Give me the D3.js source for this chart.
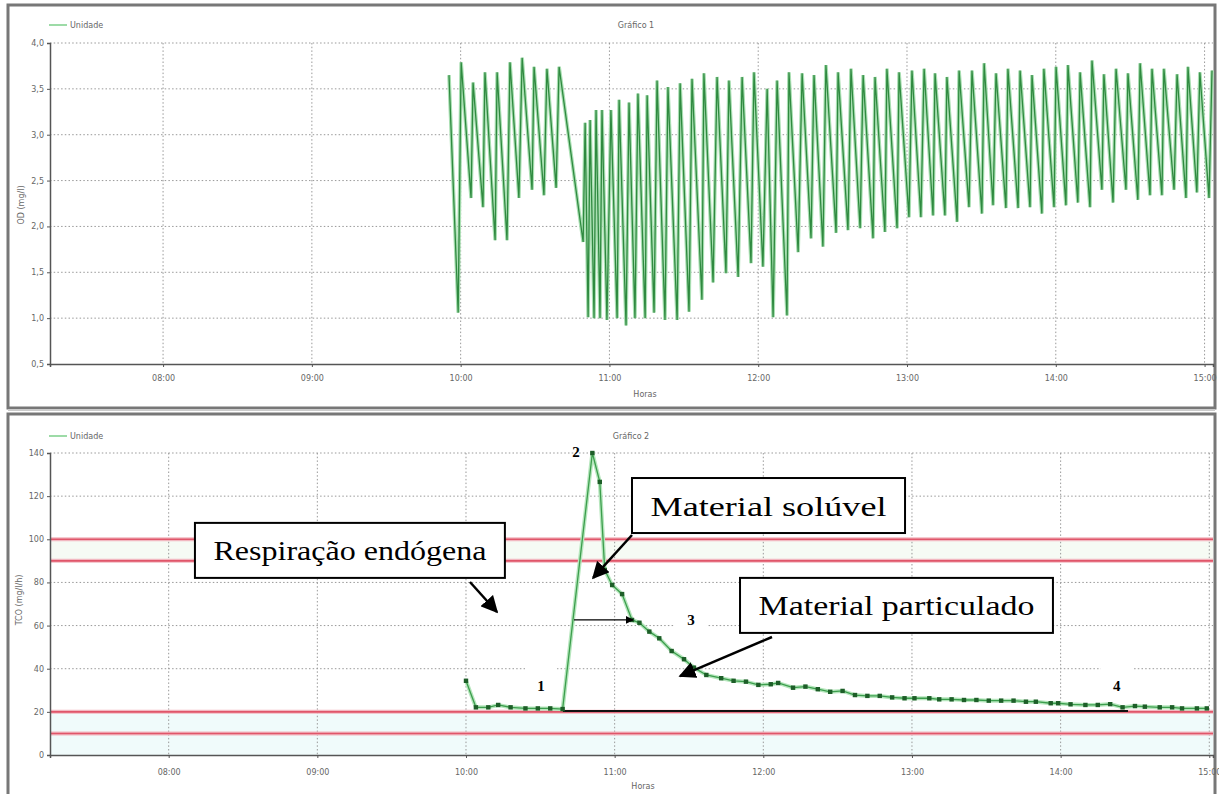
<!DOCTYPE html>
<html>
<head>
<meta charset="utf-8">
<script src="https://cdn.jsdelivr.net/npm/d3@7"></script>
<style>
	body { margin: 0; background: #fff; }
	svg { display: block; }
	.tick text { font-family: "DejaVu Sans", sans-serif; font-size: 8px; fill: #666; }
	.small { font-family: "DejaVu Sans", sans-serif; font-size: 8px; fill: #666; }
	.note { font-family: "Liberation Serif", "Times New Roman", serif; font-size: 28px; fill: #000; }
	.num { font-family: "Liberation Serif", "Times New Roman", serif; font-size: 15px; font-weight: bold; fill: #000; }
</style>
</head>
<body>
<svg id="chart" width="1219" height="794"></svg>
<script>
// ---- dados (tempo em minutos desde 00:00) ----
// Gráfico 1: OD (mg/l), picos e vales alternados
const odMinutes = [
	595.3, 599.0, 600.2, 604.2, 605.0, 609.0, 609.8, 613.9, 614.7, 618.7,
	619.9, 623.5, 624.8, 628.8, 629.6, 633.6, 634.8, 638.5, 639.7, 649.4,
	650.2, 651.4, 652.2, 653.8, 654.6, 656.2, 657.0, 659.0, 660.6, 663.1,
	663.9, 666.7, 667.9, 670.3, 671.5, 674.4, 675.2, 678.0, 679.2, 682.4,
	683.6, 687.3, 688.5, 692.1, 693.3, 697.3, 698.1, 701.8, 703.4, 707.0,
	708.2, 711.9, 713.5, 717.1, 718.3, 721.9, 723.6, 726.0, 727.6, 731.6,
	732.4, 736.1, 737.7, 741.3, 742.5, 746.1, 747.3, 751.4, 752.2, 756.2,
	757.4, 761.1, 762.3, 766.3, 767.1, 771.1, 771.9, 776.0, 776.8, 780.8,
	782.0, 785.6, 786.9, 790.5, 791.3, 795.3, 796.1, 800.2, 801.0, 805.0,
	806.2, 810.2, 811.1, 814.7, 815.9, 819.9, 820.7, 824.8, 825.6, 829.6,
	830.4, 834.4, 835.2, 839.3, 840.1, 844.1, 844.9, 848.9, 849.8, 853.8,
	854.6, 858.6, 859.4, 863.1, 864.3, 868.3, 869.1, 873.1, 874.0, 878.0,
	878.8, 882.8, 883.6, 887.7, 888.9, 892.5, 893.3, 896.9, 898.1, 901.8,
	903.0
];
const odValues = [
	3.65, 1.06, 3.79, 2.31, 3.57, 2.21, 3.68, 1.85, 3.68, 1.85,
	3.79, 2.31, 3.84, 2.40, 3.74, 2.34, 3.72, 2.42, 3.74, 1.83,
	3.13, 1.01, 3.16, 1.00, 3.27, 1.00, 3.27, 0.98, 3.27, 1.00,
	3.38, 0.92, 3.35, 1.00, 3.45, 1.00, 3.43, 1.06, 3.59, 0.98,
	3.52, 0.98, 3.56, 1.07, 3.61, 1.20, 3.67, 1.39, 3.63, 1.49,
	3.59, 1.45, 3.63, 1.60, 3.68, 1.56, 3.50, 1.01, 3.59, 1.03,
	3.68, 1.72, 3.67, 1.87, 3.65, 1.78, 3.76, 1.93, 3.68, 1.96,
	3.72, 1.98, 3.65, 1.87, 3.63, 1.94, 3.72, 1.98, 3.68, 2.10,
	3.70, 2.10, 3.72, 2.12, 3.67, 2.12, 3.63, 2.05, 3.70, 2.21,
	3.70, 2.14, 3.78, 2.23, 3.67, 2.20, 3.72, 2.20, 3.70, 2.21,
	3.65, 2.14, 3.72, 2.21, 3.74, 2.23, 3.76, 2.26, 3.68, 2.21,
	3.81, 2.40, 3.66, 2.26, 3.72, 2.40, 3.67, 2.29, 3.78, 2.34,
	3.72, 2.34, 3.72, 2.40, 3.66, 2.31, 3.74, 2.37, 3.68, 2.31,
	3.70
];

// Gráfico 2: TCO (mg/l/h)
const tcoTimes = [
	"10:00", "10:04", "10:09", "10:13", "10:18", "10:24", "10:29", "10:34", "10:39",
	"10:51", "10:54", "10:56", "10:59", "11:03", "11:07", "11:10", "11:14", "11:18",
	"11:23", "11:28", "11:32", "11:37", "11:43", "11:48", "11:53", "11:58", "12:03",
	"12:06", "12:12", "12:17", "12:22", "12:27", "12:32", "12:37", "12:42", "12:47",
	"12:52", "12:57", "13:01", "13:07", "13:11", "13:16", "13:21", "13:26", "13:31",
	"13:36", "13:41", "13:46", "13:50", "13:56", "13:59", "14:04", "14:10", "14:15",
	"14:20", "14:25", "14:30", "14:34", "14:40", "14:45", "14:49", "14:55", "14:59"
];
const tcoValues = [
	34.4, 22.1, 22.1, 23.2, 22.1, 21.6, 21.6, 21.6, 21.3,
	140, 126.6, 85.8, 78.8, 74.6, 62.6, 61.3, 57.2, 54.1,
	48.2, 44.4, 40.5, 37.1, 35.6, 34.4, 34.0, 32.5, 32.8,
	33.4, 31.2, 31.7, 30.5, 29.3, 29.7, 27.8, 27.4, 27.4,
	26.7, 26.3, 26.3, 26.3, 25.8, 25.8, 25.5, 25.5, 25.2,
	25.2, 25.2, 24.7, 24.7, 24.0, 24.0, 23.5, 23.2, 23.2,
	23.6, 22.1, 22.7, 22.4, 22.1, 22.1, 21.6, 21.6, 21.6
];

const hourTicks = ["08:00", "09:00", "10:00", "11:00", "12:00", "13:00", "14:00", "15:00"];
const odTicks = [0.5, 1.0, 1.5, 2.0, 2.5, 3.0, 3.5, 4.0];
const tcoTicks = [0, 20, 40, 60, 80, 100, 120, 140];
const tcoLimits = [100, 90, 20, 10];

// anotações do gráfico 2 (minutos, valor)
const noteBoxes = [
	{ text: "Respiração endógena", t0: 490.6, t1: 615.7, v0: 107.6, v1: 82.1 },
	{ text: "Material solúvel", t0: 667.0, t1: 777.2, v0: 128.4, v1: 102.9 },
	{ text: "Material particulado", t0: 710.6, t1: 836.9, v0: 82.1, v1: 56.6 }
];
const noteArrows = [
	{ t0: 601.6, v0: 80.2, t1: 612.5, v1: 66.3 },
	{ t0: 667.0, v0: 102.0, t1: 651.3, v1: 82.1 },
	{ t0: 723.5, v0: 54.7, t1: 686.4, v1: 36.6 },
	{ t0: 643.6, v0: 62.6, t1: 667.4, v1: 62.6, thin: true }
];
const pointLabels = [
	{ text: "1", t: 630.3, v: 32.0, box: true },
	{ text: "2", t: 644.4, v: 140.5, box: false },
	{ text: "3", t: 690.8, v: 62.6, box: true },
	{ text: "4", t: 862.7, v: 32.0, box: true }
];
const baseLine = { t0: 639.1, t1: 867.2, v: 20.4 };

// ---- helpers ----
const base = new Date(1900, 0, 1).getTime();
const toDate = m => new Date(base + m * 60000);
const parseHM = d3.timeParse("%H:%M");
const fmtHM = d3.timeFormat("%H:%M");

const svg = d3.select("#chart");

// moldura
svg.append("rect").attr("x", 8).attr("y", 5).attr("width", 1207).attr("height", 403)
	.attr("fill", "#fff").attr("stroke", "#777").attr("stroke-width", 3);
svg.append("rect").attr("x", 8).attr("y", 414).attr("width", 1207).attr("height", 390)
	.attr("fill", "#fff").attr("stroke", "#777").attr("stroke-width", 3);
svg.append("line").attr("x1", 8).attr("x2", 1215).attr("y1", 410).attr("y2", 410)
	.attr("stroke", "#ccc").attr("stroke-width", 2);

const defs = svg.append("defs");
const arrowMarker = (id, size) => {
	defs.append("marker").attr("id", id)
		.attr("viewBox", "0 0 10 10").attr("refX", 9).attr("refY", 5)
		.attr("markerWidth", size).attr("markerHeight", size)
		.attr("markerUnits", "userSpaceOnUse").attr("orient", "auto")
		.append("path").attr("d", "M0,0 L10,5 L0,10 z").attr("fill", "#000");
};
arrowMarker("arrowBig", 17);
arrowMarker("arrowSmall", 8);

function drawPanel(cfg) {
	const g = svg.append("g");
	const x = d3.scaleTime().domain([toDate(cfg.start), toDate(cfg.end)]).range([cfg.left, cfg.right]);
	const y = d3.scaleLinear().domain(cfg.yDomain).range([cfg.bottom, cfg.top]);
	const xt = hourTicks.map(parseHM);

	// faixas e limites
	if (cfg.limits) {
		const band = (a, b, c) => g.append("rect")
			.attr("x", cfg.left).attr("width", cfg.right - cfg.left)
			.attr("y", y(a)).attr("height", y(b) - y(a)).attr("fill", c);
		band(100, 90, "#f6fbf4");
		band(20, 0, "#f0fbfb");
	}

	// grade pontilhada
	g.append("g").selectAll("line").data(cfg.yTicks.filter(d => d !== cfg.yDomain[0]))
		.join("line")
		.attr("x1", cfg.left).attr("x2", cfg.right)
		.attr("y1", d => y(d)).attr("y2", d => y(d))
		.attr("stroke", "#999").attr("stroke-width", 1).attr("stroke-dasharray", "1.5,2.2");
	g.append("g").selectAll("line").data(xt)
		.join("line")
		.attr("x1", d => x(d)).attr("x2", d => x(d))
		.attr("y1", cfg.top).attr("y2", cfg.bottom)
		.attr("stroke", "#999").attr("stroke-width", 1).attr("stroke-dasharray", "1.5,2.2");

	if (cfg.limits) {
		g.append("g").selectAll("line").data(cfg.limits)
			.join("line")
			.attr("x1", cfg.left).attr("x2", cfg.right)
			.attr("y1", d => y(d)).attr("y2", d => y(d))
			.attr("stroke", "#f2b8c0").attr("stroke-width", 4);
		g.append("g").selectAll("line").data(cfg.limits)
			.join("line")
			.attr("x1", cfg.left).attr("x2", cfg.right)
			.attr("y1", d => y(d)).attr("y2", d => y(d))
			.attr("stroke", "#e0566a").attr("stroke-width", 1.6);
	}

	// eixos
	const xAxis = d3.axisBottom(x).tickValues(xt).tickFormat(fmtHM).tickSize(3).tickPadding(cfg.xPad);
	const yAxis = d3.axisLeft(y).tickValues(cfg.yTicks).tickFormat(cfg.yFormat).tickSize(3).tickPadding(3);
	g.append("g").attr("transform", `translate(0,${cfg.bottom})`).call(xAxis)
		.call(s => s.select(".domain").attr("stroke", "#555").attr("stroke-width", 1.5))
		.call(s => s.selectAll(".tick line").attr("stroke", "#555"));
	g.append("g").attr("transform", `translate(${cfg.left},0)`).call(yAxis)
		.call(s => s.select(".domain").attr("stroke", "#555").attr("stroke-width", 1.5))
		.call(s => s.selectAll(".tick line").attr("stroke", "#555"));

	// textos
	g.append("line").attr("x1", 49).attr("x2", 67).attr("y1", cfg.legendY).attr("y2", cfg.legendY)
		.attr("stroke", "#7ccf8a").attr("stroke-width", 1.5);
	g.append("text").attr("class", "small").attr("x", 70).attr("y", cfg.legendY + 3).text("Unidade");
	g.append("text").attr("class", "small").attr("x", cfg.titleX).attr("y", cfg.legendY + 3)
		.attr("text-anchor", "middle").text(cfg.title);
	g.append("text").attr("class", "small").attr("x", cfg.hoursX).attr("y", cfg.hoursY)
		.attr("text-anchor", "middle").text("Horas");
	g.append("text").attr("class", "small")
		.attr("transform", `translate(${cfg.ylabelX},${cfg.ylabelY}) rotate(-90)`)
		.attr("text-anchor", "middle").text(cfg.yLabel);

	return { g, x, y };
}

// ---- Gráfico 1 ----
const p1 = drawPanel({
	start: 434.4, end: 903.4, left: 50, right: 1213, top: 43, bottom: 364, xPad: 8,
	yDomain: [0.5, 4.0], yTicks: odTicks, yFormat: d => d.toFixed(1).replace(".", ","),
	legendY: 25, title: "Gráfico 1", titleX: 636, hoursX: 645, hoursY: 397,
	yLabel: "OD (mg/l)", ylabelX: 24, ylabelY: 205
});
const odData = odMinutes.map((m, i) => ({ t: toDate(m), v: odValues[i] }));
const odLine = d3.line().x(d => p1.x(d.t)).y(d => p1.y(d.v));
p1.g.append("path").datum(odData).attr("d", odLine)
	.attr("fill", "none").attr("stroke", "#a9dfb2").attr("stroke-width", 3.6);
p1.g.append("path").datum(odData).attr("d", odLine)
	.attr("fill", "none").attr("stroke", "#2f8a40").attr("stroke-width", 1.3);

// ---- Gráfico 2 ----
const p2 = drawPanel({
	start: 432.1, end: 901.5, left: 50, right: 1213, top: 453, bottom: 755, xPad: 11,
	yDomain: [0, 140], yTicks: tcoTicks, yFormat: d3.format("d"), limits: tcoLimits,
	legendY: 436, title: "Gráfico 2", titleX: 631, hoursX: 643, hoursY: 789,
	yLabel: "TCO (mg/l/h)", ylabelX: 22, ylabelY: 600
});
const tcoData = tcoTimes.map((s, i) => ({ t: parseHM(s), v: tcoValues[i] }));
const tcoLine = d3.line().x(d => p2.x(d.t)).y(d => p2.y(d.v));
p2.g.append("path").datum(tcoData).attr("d", tcoLine)
	.attr("fill", "none").attr("stroke", "#b5e6bc").attr("stroke-width", 4);
p2.g.append("path").datum(tcoData).attr("d", tcoLine)
	.attr("fill", "none").attr("stroke", "#3c9e4d").attr("stroke-width", 1.3);

// linha de base (respiração endógena)
p2.g.append("line")
	.attr("x1", p2.x(toDate(baseLine.t0))).attr("x2", p2.x(toDate(baseLine.t1)))
	.attr("y1", p2.y(baseLine.v)).attr("y2", p2.y(baseLine.v))
	.attr("stroke", "#111").attr("stroke-width", 2);

p2.g.append("g").selectAll("rect").data(tcoData).join("rect")
	.attr("x", d => p2.x(d.t) - 2.2).attr("y", d => p2.y(d.v) - 2.2)
	.attr("width", 4.4).attr("height", 4.4).attr("fill", "#1d5e28");

// rótulos numerados
const lbl = p2.g.append("g");
pointLabels.forEach(d => {
	const cx = p2.x(toDate(d.t)), cy = p2.y(d.v);
	if (d.box) {
		lbl.append("rect").attr("x", cx - 16).attr("y", cy - 22).attr("width", 32).attr("height", 38)
			.attr("fill", "#fff");
	}
	lbl.append("text").attr("class", "num").attr("x", cx).attr("y", cy + 5)
		.attr("text-anchor", "middle").text(d.text);
});

// setas
p2.g.append("g").selectAll("line").data(noteArrows).join("line")
	.attr("x1", d => p2.x(toDate(d.t0))).attr("y1", d => p2.y(d.v0))
	.attr("x2", d => p2.x(toDate(d.t1))).attr("y2", d => p2.y(d.v1))
	.attr("stroke", "#000").attr("stroke-width", d => d.thin ? 1.2 : 2.5)
	.attr("marker-end", d => d.thin ? "url(#arrowSmall)" : "url(#arrowBig)");

// caixas de texto (texto esticado na horizontal como no original)
const boxes = p2.g.append("g").selectAll("g").data(noteBoxes).join("g");
boxes.append("rect")
	.attr("x", d => p2.x(toDate(d.t0))).attr("y", d => p2.y(d.v0))
	.attr("width", d => p2.x(toDate(d.t1)) - p2.x(toDate(d.t0)))
	.attr("height", d => p2.y(d.v1) - p2.y(d.v0))
	.attr("fill", "#fff").attr("stroke", "#000").attr("stroke-width", 2);
boxes.append("text").attr("class", "note")
	.attr("x", d => (p2.x(toDate(d.t0)) + p2.x(toDate(d.t1))) / 2)
	.attr("y", d => (p2.y(d.v0) + p2.y(d.v1)) / 2 + 10)
	.attr("text-anchor", "middle")
	.attr("textLength", d => p2.x(toDate(d.t1)) - p2.x(toDate(d.t0)) - 37)
	.attr("lengthAdjust", "spacingAndGlyphs")
	.text(d => d.text);
</script>
</body>
</html>
